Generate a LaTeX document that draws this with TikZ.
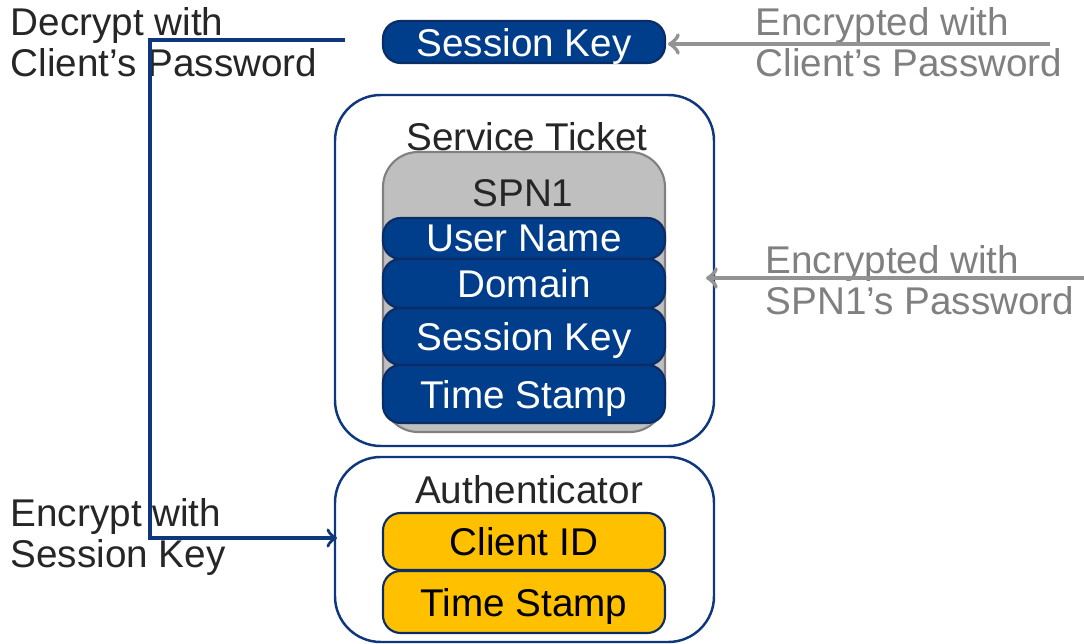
\documentclass[tikz,border=0pt]{standalone}
\usepackage{fontspec}
\setmainfont{Liberation Sans}
\usepackage{tikz}
\usetikzlibrary{arrows}
\definecolor{kblue}{RGB}{0,61,139}
\definecolor{kline}{RGB}{15,55,125}
\definecolor{kgold}{RGB}{255,192,0}
\definecolor{kgray}{RGB}{191,191,191}
\definecolor{ktext}{RGB}{38,38,38}
\definecolor{knote}{RGB}{128,128,128}
\tikzstyle{field}=[rectangle, rounded corners=5pt, minimum width=2.82cm, inner sep=0pt, text depth=0pt, draw=kline!80!black, line width=0.6pt]
\tikzstyle{bluefield}=[field, fill=kblue, text=white]
\tikzstyle{goldfield}=[field, fill=kgold, text=black]
\tikzstyle{frame}=[rectangle, rounded corners=13pt, minimum width=3.79cm, draw=kline, line width=0.7pt, fill=white]
\tikzstyle{title}=[text=ktext, inner sep=0pt]
\tikzstyle{note}=[align=left, anchor=west, inner sep=0pt, text=ktext]
\tikzstyle{encnote}=[note, text=knote]
\tikzstyle{enc}=[->, >=to, draw=knote!85, line width=1.2pt]
\tikzstyle{link}=[->, >=to, draw=kline, line width=1pt]

\begin{document}
\fontsize{11}{11.6}\selectfont
\begin{tikzpicture}
\useasboundingbox (0,0) rectangle (10.84,-6.44);
% encrypted session key
\node[bluefield, minimum height=0.42cm] (skey) at (5.24,-0.42) {Session Key};
% service ticket
\node[frame, minimum height=3.51cm] (ticket) at (5.245,-2.705) {};
\node[title] (tickettitle) at (5.27,-1.37) {Service Ticket};
\node[field, fill=kgray, draw=gray, rounded corners=10pt, minimum height=2.80cm] (spn) at (5.24,-2.92) {};
\node[title] (spntitle) at (5.23,-1.93) {SPN1};
\node[bluefield, minimum height=0.41cm] (user) at (5.24,-2.385) {User Name};
\node[bluefield, minimum height=0.49cm] (domain) at (5.24,-2.835) {Domain};
\node[bluefield, minimum height=0.57cm] (tkey) at (5.24,-3.365) {Session Key};
\node[bluefield, minimum height=0.58cm] (tstamp) at (5.24,-3.94) {Time Stamp};
% authenticator
\node[frame, minimum height=1.85cm] (auth) at (5.245,-5.495) {};
\node[title] (authtitle) at (5.29,-4.90) {Authenticator};
\node[goldfield, minimum height=0.57cm] (client) at (5.24,-5.415) {Client ID};
\node[goldfield, minimum height=0.62cm] (astamp) at (5.24,-6.02) {Time Stamp};
% notes
\node[note] (decrypt) at (0.10,-0.42) {Decrypt with\\Client’s Password};
\node[note] (encrypt) at (0.10,-5.37) {Encrypt with\\Session Key};
\node[encnote] (encclient) at (7.55,-0.42) {Encrypted with\\Client’s Password};
\node[encnote] (encspn) at (7.65,-2.80) {Encrypted with\\SPN1’s Password};
% connectors
\coordinate (dec) at (3.45,-0.40);
\coordinate (bend) at (1.50,-0.40);
\coordinate (encin) at (3.37,-5.38);
\draw[link] (dec) -- (bend) |- (encin);
\coordinate (e1) at (10.50,-0.44);
\coordinate (t1) at (6.68,-0.44);
\draw[enc] (e1) -- (t1);
\coordinate (e2) at (10.84,-2.78);
\coordinate (t2) at (7.06,-2.78);
\draw[enc] (e2) -- (t2);
\end{tikzpicture}
\end{document}
